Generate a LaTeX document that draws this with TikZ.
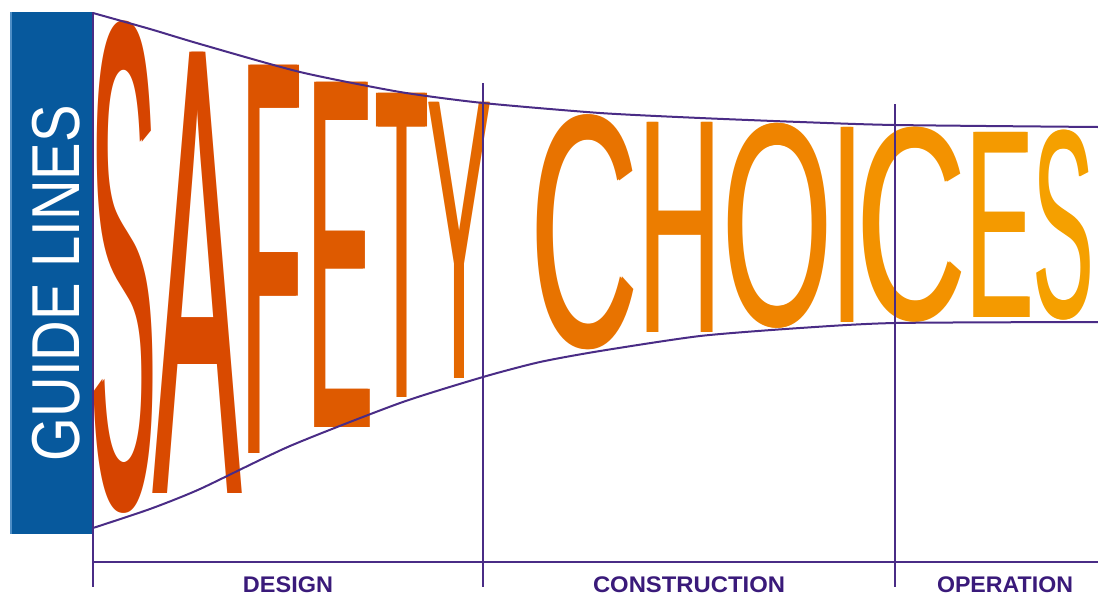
\documentclass[tikz,border=0pt]{standalone}
\usepackage{fontspec}
\setmainfont{Liberation Sans}
\newfontfamily\lf{Liberation Sans}
\definecolor{ln}{HTML}{4A2C86}
\definecolor{lbl}{HTML}{3A1A7A}
\definecolor{gblue}{HTML}{07599D}
\definecolor{gedge}{HTML}{4E8EC6}
\definecolor{c1}{HTML}{D64400}
\definecolor{c2}{HTML}{D94A00}
\definecolor{c3}{HTML}{DC5400}
\definecolor{c4}{HTML}{DE5A00}
\definecolor{c5}{HTML}{E05F00}
\definecolor{c6}{HTML}{E46800}
\definecolor{c7}{HTML}{E87300}
\definecolor{c8}{HTML}{EC7D00}
\definecolor{c9}{HTML}{EF8400}
\definecolor{c10}{HTML}{F18A00}
\definecolor{c11}{HTML}{F39200}
\definecolor{c12}{HTML}{F49A00}
\definecolor{c13}{HTML}{F5A000}
% name, x, y, W, H, colour, char
\newcommand\Ltr[7]{\node[inner sep=0pt, text=#6] (#1) at (#2,#3)
  {\rlap{\resizebox*{#4pt}{#5pt}{\lf #7}}\hspace{1.2pt}\resizebox*{#4pt}{#5pt}{\lf #7}};}
\tikzset{
  guide/.style={draw=ln, line width=2pt, line join=round},
  divider/.style={draw=ln, line width=2.8pt},
  axis/.style={draw=ln, line width=2.4pt},
  phase/.style={inner sep=0pt, text=lbl, font=\bfseries}
}
\begin{document}
\begin{tikzpicture}[x=1pt, y=-1pt]
\useasboundingbox (0,0) rectangle (1098,595);
% blue band
\fill[gblue] (10,12) rectangle (92,534);
\fill[gedge] (10,12) rectangle (12,534);
\node[inner sep=0pt, rotate=90, text=white] (guide) at (56,283)
  {\resizebox*{356pt}{48pt}{GUIDE LINES}};
% letters
\Ltr{s1}{123.5}{267.5}{66}{491}{c1}{S}
\Ltr{a1}{197.5}{272.5}{88}{441}{c2}{A}
\Ltr{f1}{272}{259}{61}{388}{c3}{F}
\Ltr{e1}{340.5}{254.5}{66}{345}{c4}{E}
\Ltr{t1}{402}{245}{53}{304}{c5}{T}
\Ltr{y1}{459.5}{240}{65}{276}{c6}{Y}
\Ltr{c1n}{584.5}{232.5}{108}{235}{c7}{C}
\Ltr{h1}{680}{227}{84}{210}{c8}{H}
\Ltr{o1}{777.5}{225.5}{111}{205}{c9}{O}
\Ltr{i1}{847.5}{224.5}{32}{195}{c10}{I}
\Ltr{c2n}{911.5}{224.5}{110}{195}{c11}{C}
\Ltr{e2}{1000}{224.5}{67}{185}{c12}{E}
\Ltr{s2}{1063.5}{225}{61}{190}{c13}{S}
% coordinates
\coordinate (tl) at (93,13);
\coordinate (bl) at (93,528);
\coordinate (tr) at (1098,127);
\coordinate (br) at (1098,322);
\coordinate (v0t) at (93,12);
\coordinate (v0b) at (93,587);
\coordinate (v1t) at (483,83);
\coordinate (v1b) at (483,587);
\coordinate (v2t) at (895,104);
\coordinate (v2b) at (895,587);
\coordinate (ax0) at (93,562);
\coordinate (ax1) at (1098,562);
% funnel
\draw[guide] plot[smooth, tension=0.4] coordinates {(tl) (150,29) (200,44) (300,72) (400,92) (483,103) (600,113) (700,118) (800,122) (895,125) (tr)};
\draw[guide] plot[smooth, tension=0.4] coordinates {(bl) (150,509) (200,489) (290,446) (400,403) (483,377) (540,362) (600,351) (700,336) (800,328) (895,323) (br)};
% dividers and axis
\draw[divider] (v0t) -- (v0b);
\draw[divider] (v1t) -- (v1b);
\draw[divider] (v2t) -- (v2b);
\draw[axis] (ax0) -- (ax1);
% phase labels
\node[phase] (design) at (288,585) {\resizebox*{90pt}{16pt}{DESIGN}};
\node[phase] (construction) at (689,585) {\resizebox*{192pt}{16pt}{CONSTRUCTION}};
\node[phase] (operation) at (1005,585) {\resizebox*{136pt}{16pt}{OPERATION}};
\end{tikzpicture}
\end{document}
